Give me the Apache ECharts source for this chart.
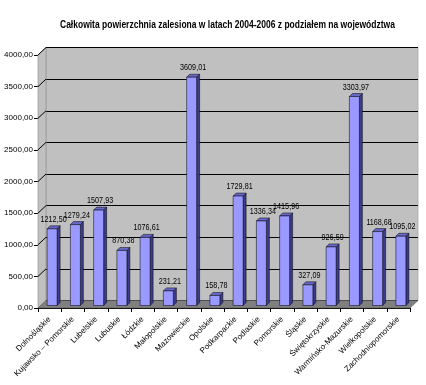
<!DOCTYPE html>
<html><head><meta charset="utf-8">
<script src="https://cdn.jsdelivr.net/npm/echarts@6/dist/echarts.min.js"></script>
<style>html,body{margin:0;padding:0;background:#fff}#c{width:426px;height:385px}</style>
</head><body><div id="c"></div>
<script>
const titleText = 'Całkowita powierzchnia zalesiona w latach 2004-2006 z podziałem na województwa';
const categories = ['Dolnośląskie','Kujawsko – Pomorskie','Lubelskie','Lubuskie','Łódzkie','Małopolskie','Mazowieckie','Opolskie','Podkarpackie','Podlaskie','Pomorskie','Śląskie','Świętokrzyskie','Warmińsko-Mazurskie','Wielkopolskie','Zachodniopomorskie'];
const values = [1212.50,1279.24,1507.93,870.38,1076.61,231.21,3609.01,158.78,1729.81,1336.34,1415.96,327.09,926.59,3303.97,1168.68,1095.02];
const yTicks = [0,500,1000,1500,2000,2500,3000,3500,4000];

const FONT = '"Liberation Sans",Arial,sans-serif';
const DX = 8, DY = 7.5;     // depth of the 3D box
const OX = 2.5, BD = 3;     // bar offset into depth, bar depth
const fmt = v => v.toFixed(2).replace('.', ',');

const chart = echarts.init(document.getElementById('c'), null, {renderer:'canvas'});

function wallsItem(params, api) {
  const cs = params.coordSys;
  const v = api.value(1);
  const y = api.coord([0, v])[1];
  const children = [];
  if (params.dataIndex === 0) {
    children.push({type:'polygon', shape:{points:[[cs.x, cs.y],[cs.x+DX, cs.y-DY],[cs.x+DX, cs.y+cs.height-DY],[cs.x, cs.y+cs.height]]},
      style:{fill:'#c0c0c0', stroke:'#8a8a8a', lineWidth:0.6}});
    children.push({type:'polygon', shape:{points:[[cs.x, cs.y+cs.height],[cs.x+cs.width, cs.y+cs.height],[cs.x+cs.width+DX, cs.y+cs.height-DY],[cs.x+DX, cs.y+cs.height-DY]]},
      style:{fill:'#808080', stroke:'#555', lineWidth:0.6}});
  }
  if (v > 0) {
    children.push({type:'line', shape:{x1:cs.x, y1:y, x2:cs.x+DX, y2:y-DY}, style:{stroke:'#000', lineWidth:1}});
  }
  return {type:'group', children};
}

function barItem(params, api) {
  const idx = api.value(0), v = api.value(1);
  const base = api.coord([idx, 0]);
  const top = api.coord([idx, v]);
  const w = api.size([1, 0])[0] * 0.43;
  const xl = base[0] - w/2 + OX, xr = base[0] + w/2 + OX;
  const yb = base[1] - OX, yt = top[1] - OX;
  const st = {stroke:'#000', lineWidth:0.5};
  const cx = (xl + xr + BD) / 2, ty = yt - BD - 2;
  return {type:'group', children:[
    {type:'polygon', shape:{points:[[xr,yt],[xr+BD,yt-BD],[xr+BD,yb-BD],[xr,yb]]}, style:Object.assign({fill:'#3c3c8c'}, st)},
    {type:'polygon', shape:{points:[[xl,yt],[xl+BD,yt-BD],[xr+BD,yt-BD],[xr,yt]]}, style:Object.assign({fill:'#6868c8'}, st)},
    {type:'rect', shape:{x:xl, y:yt, width:xr-xl, height:yb-yt}, style:Object.assign({fill:'#9999ff'}, st)},
    {type:'text', x:cx, y:ty, scaleX:0.8, originX:0, originY:0,
      style:{text:fmt(v), x:0, y:0, align:'center', verticalAlign:'bottom', font:'9px ' + FONT, fill:'#000'}}
  ]};
}

const option = {
  backgroundColor:'#fff',
  animation:false,
  graphic:[{type:'text', left:60, top:20, scaleX:0.85, originX:0,
    style:{text:titleText, font:'bold 10px ' + FONT, fill:'#000'}}],
  grid:[
    {left:38, right:16, top:55, bottom:77, containLabel:false},
    {left:38+DX, right:16-DX, top:55-DY, bottom:77+DY, show:true, backgroundColor:'#c0c0c0', borderColor:'#a8a8a8', borderWidth:0.8}
  ],
  xAxis:[
    {type:'category', gridIndex:0, data:categories,
      axisLine:{lineStyle:{color:'#000', width:1}},
      axisTick:{show:true, alignWithLabel:false, length:4, lineStyle:{color:'#000'}},
      axisLabel:{rotate:45, interval:0, margin:10, fontFamily:FONT, fontSize:8, color:'#000'}},
    {type:'category', gridIndex:1, data:categories, show:false}
  ],
  yAxis:[
    {type:'value', gridIndex:0, min:0, max:4000, interval:500,
      axisLine:{show:true, lineStyle:{color:'#000', width:1}},
      axisTick:{show:true, length:4, lineStyle:{color:'#000'}},
      splitLine:{show:false},
      axisLabel:{formatter:v => fmt(v), margin:5, fontFamily:FONT, fontSize:8, color:'#000'}},
    {type:'value', gridIndex:1, min:0, max:4000, interval:500,
      axisLine:{show:false}, axisTick:{show:false}, axisLabel:{show:false},
      splitLine:{show:true, lineStyle:{color:'#000', width:1}}}
  ],
  series:[
    {type:'custom', xAxisIndex:0, yAxisIndex:0, data:yTicks.map(v => [0, v]), renderItem:wallsItem, z:1, silent:true,
      encode:{x:0, y:1}},
    {type:'custom', xAxisIndex:0, yAxisIndex:0, data:values.map((v,i) => [i, v]), renderItem:barItem, z:3,
      encode:{x:0, y:1}}
  ]
};
chart.setOption(option);
</script></body></html>
